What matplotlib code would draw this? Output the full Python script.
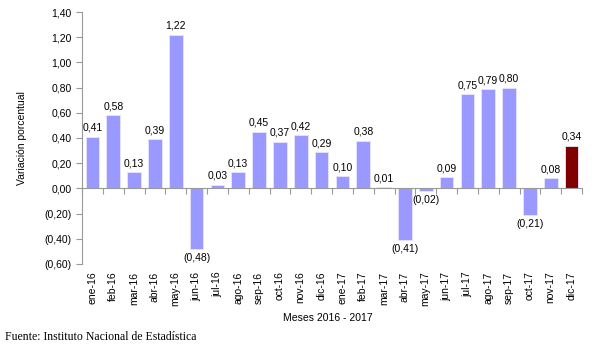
import numpy as np
import matplotlib.pyplot as plt

plt.rcParams['font.family'] = ['Liberation Sans', 'DejaVu Sans']

# Data
months = ["ene-16", "feb-16", "mar-16", "abr-16", "may-16", "jun-16",
          "jul-16", "ago-16", "sep-16", "oct-16", "nov-16", "dic-16",
          "ene-17", "feb-17", "mar-17", "abr-17", "may-17", "jun-17",
          "jul-17", "ago-17", "sep-17", "oct-17", "nov-17", "dic-17"]
values = [0.41, 0.58, 0.13, 0.39, 1.22, -0.48,
          0.03, 0.13, 0.45, 0.37, 0.42, 0.29,
          0.10, 0.38, 0.01, -0.41, -0.02, 0.09,
          0.75, 0.79, 0.80, -0.21, 0.08, 0.34]
yticks = [-0.6, -0.4, -0.2, 0.0, 0.2, 0.4, 0.6, 0.8, 1.0, 1.2, 1.4]


def fmt(v):
    s = f"{abs(v):.2f}".replace('.', ',')
    return f"({s})" if v < 0 else s


fig = plt.figure(figsize=(6.1, 3.46), dpi=100)
ax = fig.add_axes([82 / 610, 1 - 264 / 346, 500 / 610, 252 / 346])

x = np.arange(len(months))
colors = ['#9999FF'] * (len(months) - 1) + ['#800000']
bars = ax.bar(x, values, width=0.66, color=colors, edgecolor='#E6E6FF',
              linewidth=0.6, zorder=2)

for xi, v in zip(x, values):
    if v >= 0:
        ax.text(xi, v + 0.03, fmt(v), ha='center', va='bottom', fontsize=7.5)
    else:
        ax.text(xi, v - 0.03, fmt(v), ha='center', va='top', fontsize=7.5)

ax.set_xlim(-0.5, len(months) - 0.5)
ax.set_ylim(-0.6, 1.4)
ax.set_yticks(yticks)
ax.set_yticklabels([fmt(t) for t in yticks], fontsize=7.5)

# x axis at zero with boundary ticks
ax.spines['top'].set_visible(False)
ax.spines['right'].set_visible(False)
ax.spines['bottom'].set_position(('data', 0))
ax.spines['bottom'].set_color('#999999')
ax.spines['left'].set_color('#999999')
ax.set_xticks(np.arange(-0.5, len(months), 1.0))
ax.set_xticklabels([])
ax.tick_params(axis='x', length=4, color='#999999', direction='out')
ax.tick_params(axis='y', length=4, color='#999999', direction='out')

# month labels below the plot
for xi, m in zip(x, months):
    ax.text(xi, -0.66, m, rotation=90, ha='center', va='top', fontsize=7.5)

fig.text(22 / 610, 1 - 138 / 346, "Variación porcentual", rotation=90,
         ha='center', va='center', fontsize=7.5)
fig.text(328 / 610, 1 - 318 / 346, "Meses 2016 - 2017", ha='center',
         va='center', fontsize=7.5)
fig.text(5 / 610, 1 - 337 / 346, "Fuente: Instituto Nacional de Estadística",
         ha='left', va='center', fontsize=8.5,
         family=['Liberation Serif', 'DejaVu Serif'])

fig.savefig('out.png', dpi=100)
